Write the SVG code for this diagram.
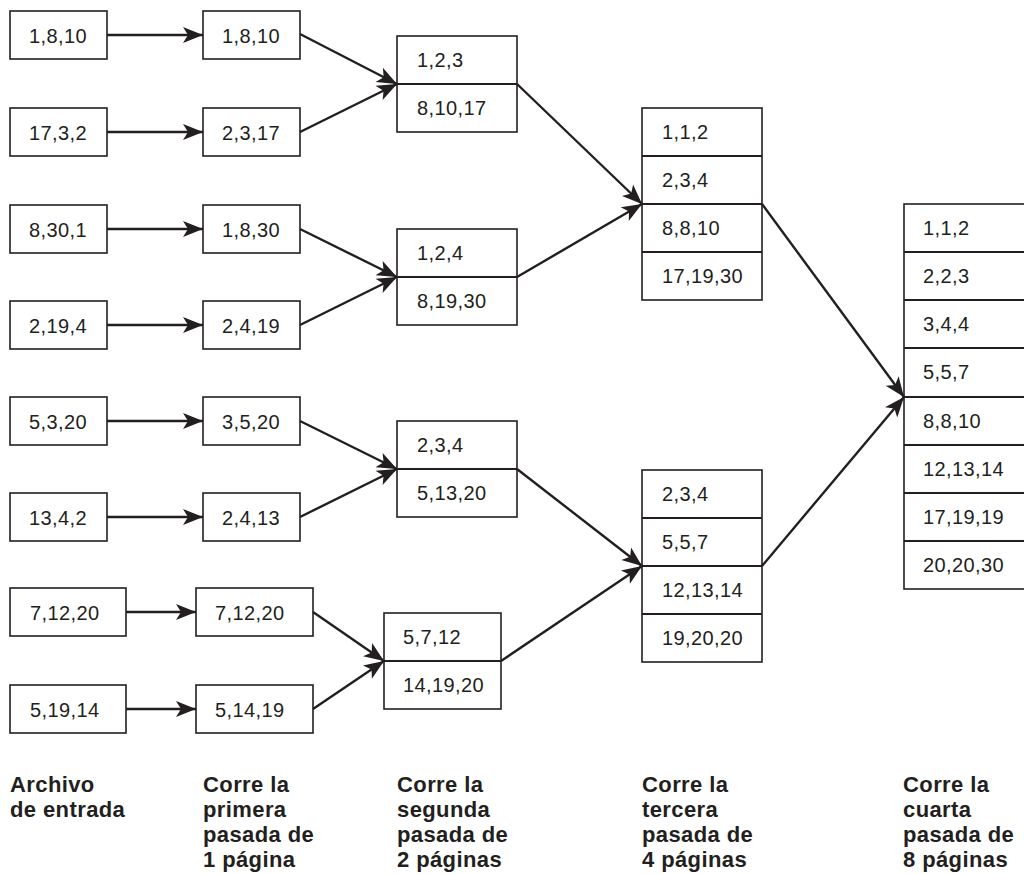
<svg xmlns="http://www.w3.org/2000/svg" width="1024" height="874" viewBox="0 0 1024 874">
<style>
.b{fill:#fff;stroke:#231f20;stroke-width:1.6}
.d{stroke:#231f20;stroke-width:1.8}
.t{font-family:"Liberation Sans",Arial,Helvetica,sans-serif;font-size:20px;fill:#231f20;letter-spacing:0.4px}
.m{text-anchor:middle}
.c{stroke:#231f20;stroke-width:2.4;fill:none;marker-end:url(#ah)}
.l{font-family:"Liberation Sans",Arial,Helvetica,sans-serif;font-size:22px;font-weight:bold;fill:#231f20;letter-spacing:0.4px}
</style>
<defs>
<marker id="ah" markerUnits="userSpaceOnUse" viewBox="-21 -9 22 18" refX="0" refY="0" markerWidth="22" markerHeight="18" orient="auto">
<path d="M0,0 L-20,-8 L-15,0 L-20,8 Z" fill="#231f20"/>
</marker>
</defs>
<rect width="1024" height="874" fill="#fff"/>

<!-- Column 1: input -->
<g id="in1"><rect class="b" x="10" y="11" width="97" height="48"/><text class="t m" x="58" y="43">1,8,10</text></g>
<g id="in2"><rect class="b" x="10" y="108" width="97" height="48"/><text class="t m" x="58" y="140">17,3,2</text></g>
<g id="in3"><rect class="b" x="10" y="205" width="97" height="48"/><text class="t m" x="58" y="237">8,30,1</text></g>
<g id="in4"><rect class="b" x="10" y="301" width="97" height="48"/><text class="t m" x="58" y="333">2,19,4</text></g>
<g id="in5"><rect class="b" x="10" y="397" width="97" height="48"/><text class="t m" x="58" y="429">5,3,20</text></g>
<g id="in6"><rect class="b" x="10" y="493" width="97" height="48"/><text class="t m" x="58" y="525">13,4,2</text></g>
<g id="in7"><rect class="b" x="10" y="588" width="116" height="48"/><text class="t" x="30" y="620">7,12,20</text></g>
<g id="in8"><rect class="b" x="10" y="685" width="116" height="48"/><text class="t" x="30" y="717">5,19,14</text></g>

<!-- Column 2: first pass -->
<g id="p1a"><rect class="b" x="203" y="11" width="97" height="48"/><text class="t m" x="251" y="43">1,8,10</text></g>
<g id="p1b"><rect class="b" x="203" y="108" width="97" height="48"/><text class="t m" x="251" y="140">2,3,17</text></g>
<g id="p1c"><rect class="b" x="203" y="205" width="97" height="48"/><text class="t m" x="251" y="237">1,8,30</text></g>
<g id="p1d"><rect class="b" x="203" y="301" width="97" height="48"/><text class="t m" x="251" y="333">2,4,19</text></g>
<g id="p1e"><rect class="b" x="203" y="397" width="97" height="48"/><text class="t m" x="251" y="429">3,5,20</text></g>
<g id="p1f"><rect class="b" x="203" y="493" width="97" height="48"/><text class="t m" x="251" y="525">2,4,13</text></g>
<g id="p1g"><rect class="b" x="196" y="588" width="117" height="48"/><text class="t" x="215" y="620">7,12,20</text></g>
<g id="p1h"><rect class="b" x="196" y="685" width="117" height="48"/><text class="t" x="215" y="717">5,14,19</text></g>

<!-- Column 3: second pass -->
<g id="p2a"><rect class="b" x="397" y="36" width="120" height="96"/><line class="d" x1="397" y1="84" x2="517" y2="84"/>
<text class="t" x="417" y="67">1,2,3</text><text class="t" x="417" y="115">8,10,17</text></g>
<g id="p2b"><rect class="b" x="397" y="229" width="120" height="96"/><line class="d" x1="397" y1="277" x2="517" y2="277"/>
<text class="t" x="417" y="260">1,2,4</text><text class="t" x="417" y="308">8,19,30</text></g>
<g id="p2c"><rect class="b" x="397" y="421" width="120" height="96"/><line class="d" x1="397" y1="469" x2="517" y2="469"/>
<text class="t" x="417" y="452">2,3,4</text><text class="t" x="417" y="500">5,13,20</text></g>
<g id="p2d"><rect class="b" x="384" y="613" width="117" height="96"/><line class="d" x1="384" y1="661" x2="501" y2="661"/>
<text class="t" x="403" y="644">5,7,12</text><text class="t" x="403" y="692">14,19,20</text></g>

<!-- Column 4: third pass -->
<g id="p3a"><rect class="b" x="642" y="108" width="120" height="192"/>
<line class="d" x1="642" y1="156" x2="762" y2="156"/><line class="d" x1="642" y1="204" x2="762" y2="204"/><line class="d" x1="642" y1="252" x2="762" y2="252"/>
<text class="t" x="662" y="139">1,1,2</text><text class="t" x="662" y="187">2,3,4</text><text class="t" x="662" y="235">8,8,10</text><text class="t" x="662" y="283">17,19,30</text></g>
<g id="p3b"><rect class="b" x="642" y="470" width="120" height="192"/>
<line class="d" x1="642" y1="518" x2="762" y2="518"/><line class="d" x1="642" y1="566" x2="762" y2="566"/><line class="d" x1="642" y1="614" x2="762" y2="614"/>
<text class="t" x="662" y="501">2,3,4</text><text class="t" x="662" y="549">5,5,7</text><text class="t" x="662" y="597">12,13,14</text><text class="t" x="662" y="645">19,20,20</text></g>

<!-- Column 5: fourth pass -->
<g id="p4"><rect class="b" x="904" y="204" width="130" height="385"/>
<line class="d" x1="904" y1="252" x2="1024" y2="252"/><line class="d" x1="904" y1="300" x2="1024" y2="300"/><line class="d" x1="904" y1="348" x2="1024" y2="348"/><line class="d" x1="904" y1="397" x2="1024" y2="397"/><line class="d" x1="904" y1="445" x2="1024" y2="445"/><line class="d" x1="904" y1="493" x2="1024" y2="493"/><line class="d" x1="904" y1="541" x2="1024" y2="541"/>
<text class="t" x="923" y="235">1,1,2</text><text class="t" x="923" y="283">2,2,3</text><text class="t" x="923" y="331">3,4,4</text><text class="t" x="923" y="379">5,5,7</text><text class="t" x="923" y="428">8,8,10</text><text class="t" x="923" y="476">12,13,14</text><text class="t" x="923" y="524">17,19,19</text><text class="t" x="923" y="572">20,20,30</text></g>

<!-- Connectors -->
<g id="connectors">
<line class="c" x1="107" y1="35" x2="203" y2="35"/>
<line class="c" x1="107" y1="132" x2="203" y2="132"/>
<line class="c" x1="107" y1="229" x2="203" y2="229"/>
<line class="c" x1="107" y1="325" x2="203" y2="325"/>
<line class="c" x1="107" y1="421" x2="203" y2="421"/>
<line class="c" x1="107" y1="517" x2="203" y2="517"/>
<line class="c" x1="126" y1="612" x2="196" y2="612"/>
<line class="c" x1="126" y1="709" x2="196" y2="709"/>
<line class="c" x1="300" y1="34" x2="397" y2="84"/>
<line class="c" x1="300" y1="132" x2="397" y2="84"/>
<line class="c" x1="300" y1="229" x2="397" y2="277"/>
<line class="c" x1="300" y1="325" x2="397" y2="277"/>
<line class="c" x1="300" y1="421" x2="397" y2="469"/>
<line class="c" x1="300" y1="517" x2="397" y2="469"/>
<line class="c" x1="313" y1="612" x2="384" y2="661"/>
<line class="c" x1="313" y1="709" x2="384" y2="661"/>
<line class="c" x1="517" y1="84" x2="642" y2="204"/>
<line class="c" x1="517" y1="277" x2="642" y2="204"/>
<line class="c" x1="517" y1="469" x2="642" y2="566"/>
<line class="c" x1="501" y1="661" x2="642" y2="566"/>
<line class="c" x1="762" y1="204" x2="904" y2="397"/>
<line class="c" x1="762" y1="566" x2="904" y2="397"/>
</g>

<!-- Column labels -->
<g id="labels">
<text class="l" x="10" y="792">Archivo</text>
<text class="l" x="10" y="817">de entrada</text>
<text class="l" x="203" y="792">Corre la</text>
<text class="l" x="203" y="817">primera</text>
<text class="l" x="203" y="842">pasada de</text>
<text class="l" x="203" y="867">1 página</text>
<text class="l" x="397" y="792">Corre la</text>
<text class="l" x="397" y="817">segunda</text>
<text class="l" x="397" y="842">pasada de</text>
<text class="l" x="397" y="867">2 páginas</text>
<text class="l" x="642" y="792">Corre la</text>
<text class="l" x="642" y="817">tercera</text>
<text class="l" x="642" y="842">pasada de</text>
<text class="l" x="642" y="867">4 páginas</text>
<text class="l" x="903" y="792">Corre la</text>
<text class="l" x="903" y="817">cuarta</text>
<text class="l" x="903" y="842">pasada de</text>
<text class="l" x="903" y="867">8 páginas</text>
</g>
</svg>
